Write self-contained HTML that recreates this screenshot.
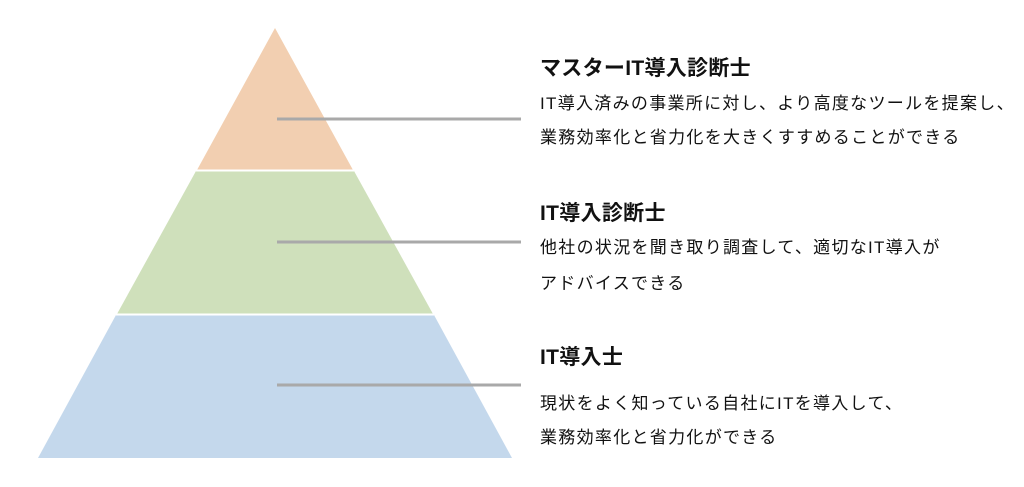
<!DOCTYPE html>
<html><head><meta charset="utf-8"><style>
body{margin:0;width:1024px;height:487px;background:#fff;overflow:hidden;position:relative;font-family:"Liberation Sans","Noto Sans CJK JP",sans-serif;color:#111}
.t{position:absolute;left:540px;font-size:21px;font-weight:bold;white-space:nowrap;line-height:1;letter-spacing:0.3px}
.d{position:absolute;left:540px;font-size:17px;letter-spacing:1.3px;white-space:nowrap;line-height:1}
</style></head><body>
<svg width="1024" height="487" style="position:absolute;left:0;top:0">
<polygon points="275,28 353,170 197,170" fill="#f2cfb1"/>
<polygon points="196,171 354,171 433,314 117,314" fill="#cfe0bb"/>
<polygon points="116,315 434,315 512,458 38,458" fill="#c4d8ec"/>
<line x1="196" y1="170.5" x2="354" y2="170.5" stroke="#fff" stroke-width="2"/>
<line x1="116" y1="314.5" x2="434" y2="314.5" stroke="#fff" stroke-width="2"/>
<g stroke="#a9a9a9" stroke-width="3">
<line x1="277" y1="119" x2="521" y2="119"/>
<line x1="277" y1="242" x2="521" y2="242"/>
<line x1="277" y1="385" x2="521" y2="385"/>
</g>
</svg>
<div class="t" style="top:58px">マスターIT導入診断士</div>
<div class="d" style="top:95px">IT導入済みの事業所に対し、より高度なツールを提案し、</div>
<div class="d" style="top:129px">業務効率化と省力化を大きくすすめることができる</div>
<div class="t" style="top:203px">IT導入診断士</div>
<div class="d" style="top:239px">他社の状況を聞き取り調査して、適切なIT導入が</div>
<div class="d" style="top:275px">アドバイスできる</div>
<div class="t" style="top:347px">IT導入士</div>
<div class="d" style="top:395px">現状をよく知っている自社にITを導入して、</div>
<div class="d" style="top:429px">業務効率化と省力化ができる</div>
</body></html>
